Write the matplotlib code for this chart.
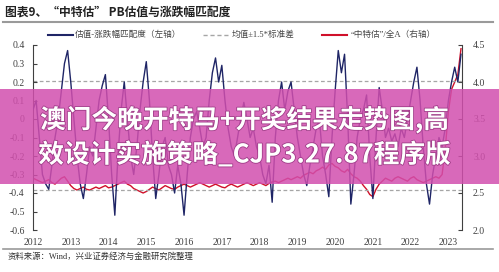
import matplotlib
matplotlib.use('Agg')
import matplotlib.pyplot as plt
import matplotlib.patheffects as pe
from matplotlib.lines import Line2D
from matplotlib.patches import Rectangle
import numpy as np

plt.rcParams['font.family'] = ['Liberation Serif', 'Noto Sans CJK SC']
plt.rcParams['axes.unicode_minus'] = False

# monthly, Jan 2012 - May 2023
start_year = 2012
match_score = [
    0.05, 0.10, -0.10, -0.30, -0.35, -0.38, -0.25, -0.10, 0.00, 0.15, 0.30, 0.37,
    0.20, 0.00, -0.20, -0.35, -0.43, -0.30, -0.15, -0.20, -0.05, 0.10, 0.18, 0.24,
    0.00, -0.30, -0.52, -0.20, 0.05, 0.20, 0.00, -0.20, -0.30, -0.15, 0.05, 0.20,
    0.31, 0.10, -0.20, -0.43, -0.30, -0.15, -0.10, -0.25, -0.30, -0.40, -0.25, -0.35,
    -0.52, -0.30, -0.10, 0.00, 0.04, -0.05, -0.15, -0.10, 0.10, 0.25, 0.33, 0.20,
    0.29, 0.10, -0.05, -0.15, -0.20, -0.10, 0.00, 0.09, 0.00, -0.10, -0.05, -0.15,
    -0.20, -0.30, -0.35, -0.25, -0.45, -0.10, 0.10, 0.20, 0.05, 0.15, 0.20, 0.05,
    -0.10, -0.20, -0.30, -0.36, -0.25, -0.15, -0.05, 0.00, -0.20, -0.30, -0.42, -0.10,
    0.15, 0.37, 0.25, 0.35, 0.00, -0.46, -0.30, -0.10, 0.00, 0.05, 0.13, -0.20,
    -0.43, -0.10, 0.17, 0.05, -0.10, -0.05, -0.12, -0.08, -0.15, -0.05, -0.10, 0.00,
    0.10, 0.20, 0.28, 0.10, -0.15, -0.35, -0.46, -0.30, -0.20, -0.10, -0.15, -0.05,
    0.10, 0.20, 0.28, 0.20, 0.35,
]
ratio = [
    2.70, 2.68, 2.66, 2.64, 2.66, 2.68, 2.64, 2.62, 2.66, 2.70, 2.72, 2.66,
    2.60, 2.56, 2.54, 2.56, 2.58, 2.55, 2.54, 2.56, 2.58, 2.56, 2.58, 2.60,
    2.57, 2.58, 2.60, 2.62, 2.64, 2.66, 2.62, 2.60, 2.56, 2.54, 2.52, 2.50,
    2.52, 2.55, 2.58, 2.56, 2.54, 2.57, 2.60, 2.58, 2.56, 2.55, 2.58, 2.60,
    2.62, 2.60, 2.58, 2.60, 2.62, 2.64, 2.62, 2.60, 2.58, 2.60, 2.62, 2.60,
    2.58, 2.57, 2.60, 2.62, 2.60, 2.58, 2.60, 2.62, 2.64, 2.62, 2.60, 2.62,
    2.64, 2.62, 2.60, 2.63, 2.65, 2.66, 2.64, 2.66, 2.68, 2.70, 2.68, 2.70,
    2.72, 2.70, 2.74, 2.76, 2.78, 2.76, 2.80, 2.82, 2.85, 2.82, 2.88, 2.90,
    2.86, 2.84, 2.80, 2.78, 2.82, 2.76, 2.72, 2.70, 2.66, 2.60, 2.55, 2.48,
    2.45, 2.55, 2.62, 2.66, 2.70, 2.68, 2.66, 2.70, 2.72, 2.70, 2.68, 2.66,
    2.70, 2.72, 2.68, 2.66, 2.64, 2.66, 2.68, 2.70, 2.72, 2.70, 2.75, 3.10,
    3.60, 3.90, 4.00, 4.10, 4.45,
]
band_upper = 0.205
band_lower = -0.385

years = list(range(2012, 2024))
left_ticks = [0.4, 0.3, 0.2, 0.1, 0, -0.1, -0.2, -0.3, -0.4, -0.5, -0.6]
right_ticks = [2.0, 2.5, 3.0, 3.5, 4.0, 4.5]

t = start_year + np.arange(len(match_score)) / 12

navy = '#1f2566'
red = '#d0102a'
grey = '#a6a6a6'

fig = plt.figure(figsize=(4.99, 2.72), dpi=100)
ax = fig.add_axes([33/499, 1-230/272, (462-33)/499, (230-45)/272])
ax2 = ax.twinx()

ax.plot(t, match_score, color=navy, lw=1.0, zorder=3)
ax.axhline(band_upper, color=grey, lw=0.9, ls=(0, (3, 2)), zorder=1)
ax.axhline(band_lower, color=grey, lw=0.9, ls=(0, (3, 2)), zorder=1)
ax2.plot(t, ratio, color=red, lw=1.0, zorder=2)

ax.set_xlim(2012, 2023.36)
ax.set_ylim(-0.6, 0.4)
ax2.set_ylim(2.0, 4.5)
ax.set_yticks(left_ticks)
ax.set_yticklabels([f'{v:g}' for v in left_ticks])
ax2.set_yticks(right_ticks)
ax2.set_yticklabels([f'{v:.1f}' for v in right_ticks])
ax.set_xticks(years)
ax.set_xticklabels([str(y) for y in years])

for a in (ax, ax2):
    a.spines['top'].set_visible(False)
    a.spines['bottom'].set_visible(False)
    a.set_facecolor('none')
ax.spines['right'].set_visible(False)
ax2.spines['left'].set_visible(False)
ax.spines['left'].set_color('#404040')
ax2.spines['right'].set_color('#404040')
ax.tick_params(axis='y', direction='in', length=3, labelsize=7, colors='#404040', pad=6)
ax2.tick_params(axis='y', direction='in', length=3, labelsize=7, colors='#404040', pad=8)
ax.tick_params(axis='x', length=0, labelsize=7, colors='#404040', pad=6)
ax.set_zorder(2)
ax2.set_zorder(1)
ax.patch.set_visible(False)

# header and footer
fig.text(5/499, 1-12/272, '图表9、“中特估” PB估值与涨跌幅匹配度', fontsize=8.5,
         fontweight='bold', family=['Noto Sans CJK SC'], va='center', color='#222222')
fig.add_artist(Line2D([3/499, 493/499], [1-22/272, 1-22/272], color='#9a9a9a', lw=1.5))
fig.add_artist(Line2D([3/499, 493/499], [1-249/272, 1-249/272], color='#9a9a9a', lw=1.2))
fig.text(8/499, 1-257/272, '资料来源：Wind，兴业证券经济与金融研究院整理', fontsize=6,
         family=['Liberation Serif', 'Noto Sans CJK SC'], va='center', color='#333333')

# legend
ly = 1-35/272
fig.add_artist(Line2D([48/499, 73/499], [ly, ly], color=navy, lw=1.5))
fig.text(75/499, ly, '估值-涨跌幅匹配度（左轴）', fontsize=6.2, va='center', color='#444444')
fig.add_artist(Line2D([203/499, 230/499], [ly, ly], color=grey, lw=1.0, ls=(0, (3, 2))))
fig.text(232/499, ly, '均值±1.5*标准差', fontsize=6.2, va='center', color='#444444')
fig.add_artist(Line2D([322/499, 347/499], [ly, ly], color=red, lw=1.5))
fig.text(351/499, ly, '“中特估”/全A（右轴）', fontsize=6.2, va='center', color='#444444')

# overlay banner
fig.add_artist(Rectangle((0, 1-184/272), 1, (184-89)/272, transform=fig.transFigure,
                         facecolor='#d24fae', alpha=0.85, edgecolor='none', zorder=10))
for txt, yy in [('澳门今晚开特马+开奖结果走势图,高', 120), ('效设计实施策略_CJP3.27.87程序版', 155)]:
    fig.text(245/499, 1-yy/272, txt, fontsize=18.5, fontweight='bold', color='white',
             family=['Noto Sans CJK SC'], ha='center', va='center', zorder=11,
             path_effects=[pe.withStroke(linewidth=1.2, foreground='#a03c88')])

fig.savefig('out.png', dpi=100)
